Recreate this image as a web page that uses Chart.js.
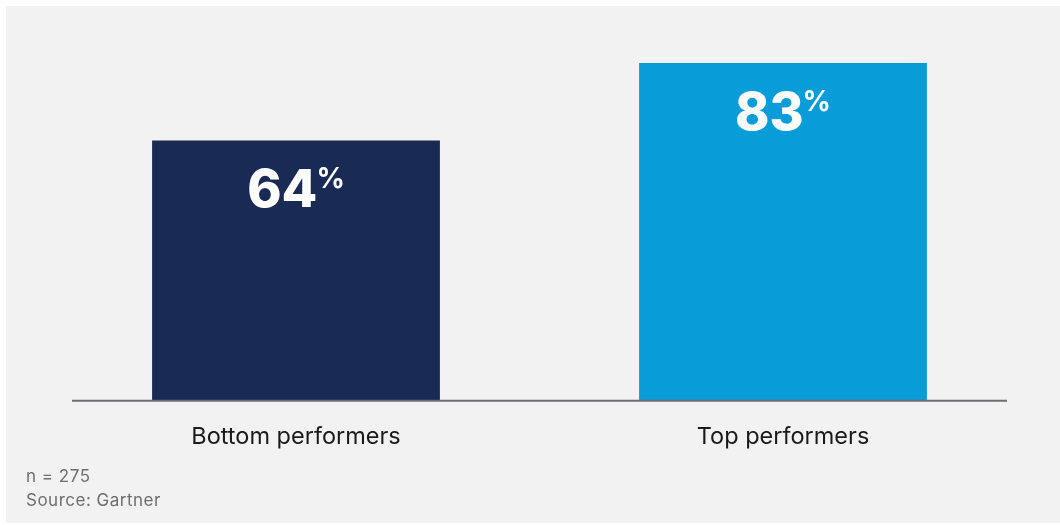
<!DOCTYPE html>
<html>
<head>
<meta charset="utf-8">
<script src="https://cdn.jsdelivr.net/npm/chart.js@4.4.1/dist/chart.umd.min.js"></script>
<style>
    body { margin: 0; background: #ffffff; width: 1060px; height: 525px; overflow: hidden; position: relative; font-family: Inter, "Noto Sans", sans-serif; }
    #panel { position: absolute; left: 6px; top: 6px; width: 1054px; height: 517px; background: #f2f2f2; }
    #wrap { position: absolute; left: 0; top: 0; width: 1060px; height: 525px; }
    .note { position: absolute; left: 26px; font-size: 17px; letter-spacing: 0.5px; color: #6d6e71; }
</style>
</head>
<body>
<div id="panel"></div>
<div id="wrap"><canvas id="chart"></canvas></div>
<div class="note" style="top: 466px;">n = 275</div>
<div class="note" style="top: 490px;">Source: Gartner</div>
<script>
const categories = ['Bottom performers', 'Top performers'];
const shares = [64, 83];
const barColors = ['#192a54', '#089cd8'];

// value labels: big number + small superscript %
const valueLabels = {
    id: 'valueLabels',
    afterDatasetsDraw(chart) {
        const ctx = chart.ctx;
        const meta = chart.getDatasetMeta(0);
        ctx.save();
        ctx.fillStyle = '#ffffff';
        ctx.textBaseline = 'alphabetic';
        ctx.textAlign = 'left';
        meta.data.forEach(function(bar, i) {
            const num = String(shares[i]);
            ctx.font = '800 52px Inter';
            const wNum = ctx.measureText(num).width;
            ctx.font = '700 28px Inter';
            const wPct = ctx.measureText('%').width;
            const start = bar.x - (wNum + wPct - 1) / 2;
            ctx.font = '800 52px Inter';
            ctx.fillText(num, start, bar.y + 67);
            ctx.font = '700 28px Inter';
            ctx.fillText('%', start + wNum - 1, bar.y + 48);
        });
        // baseline
        const yZero = chart.scales.y.getPixelForValue(0);
        ctx.strokeStyle = '#6d6e71';
        ctx.lineWidth = 2;
        ctx.beginPath();
        ctx.moveTo(72, yZero);
        ctx.lineTo(1007, yZero);
        ctx.stroke();
        ctx.restore();
    }
};

new Chart(document.getElementById('chart').getContext('2d'), {
    type: 'bar',
    data: {
        labels: categories,
        datasets: [{
            data: shares,
            backgroundColor: barColors,
            barPercentage: 0.591,
            categoryPercentage: 1.0
        }]
    },
    options: {
        responsive: true,
        maintainAspectRatio: false,
        animation: false,
        layout: { padding: { left: 52.5, right: 33.5, top: 0, bottom: 52 } },
        plugins: { legend: { display: false }, tooltip: { enabled: false } },
        scales: {
            x: {
                grid: { display: false, drawTicks: false },
                border: { display: false },
                ticks: { color: '#1a1a1a', padding: 22, font: { family: 'Inter', size: 23.5 } }
            },
            y: {
                display: false,
                min: 0,
                max: 98.5
            }
        }
    },
    plugins: [valueLabels]
});
</script>
</body>
</html>
